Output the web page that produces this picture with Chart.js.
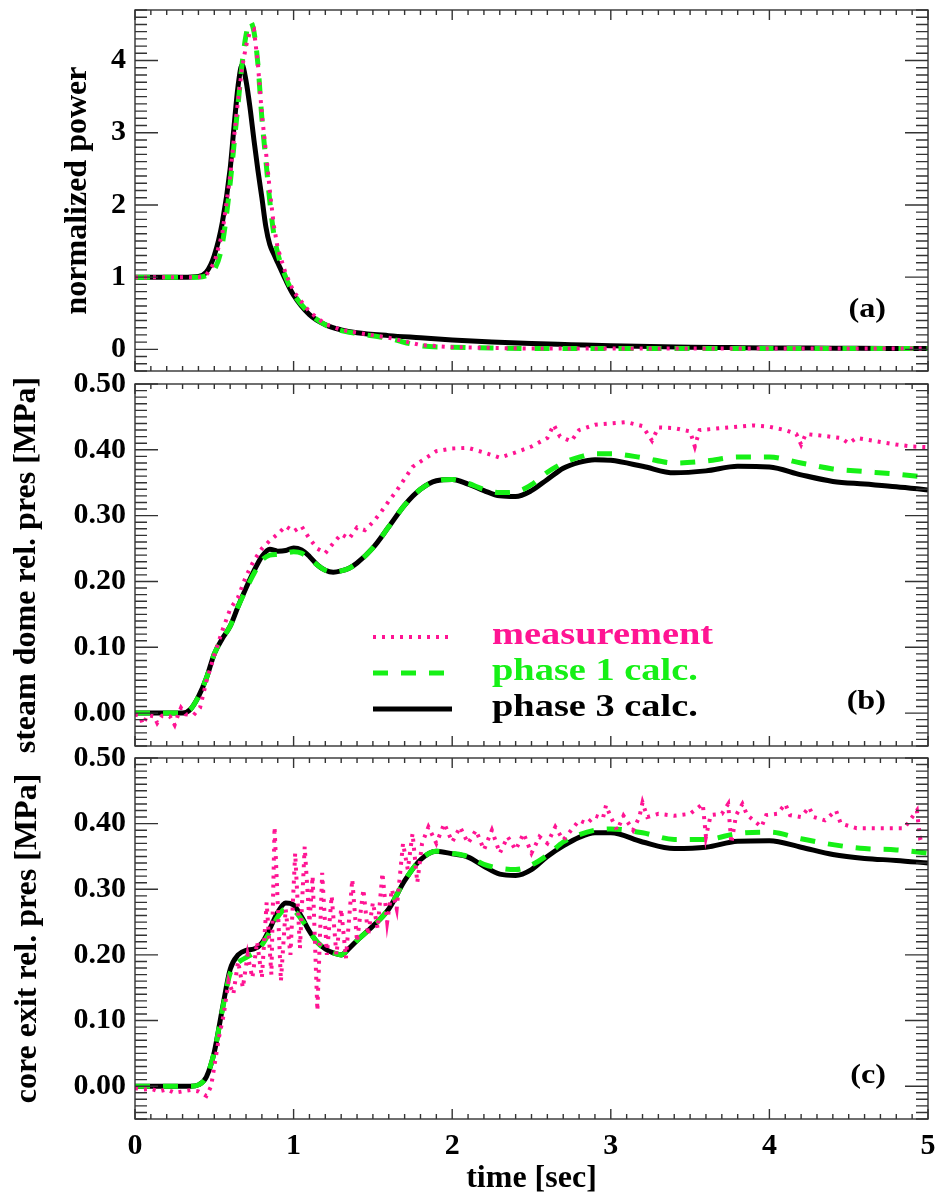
<!DOCTYPE html>
<html>
<head>
<meta charset="utf-8">
<script src="https://cdn.jsdelivr.net/npm/chart.js@4.4.1/dist/chart.umd.min.js"></script>
<style>
  body { margin: 0; background: #fff; }
  #wrap { position: relative; width: 935px; height: 1197px; }
  #wrap canvas { position: absolute; left: 0; top: 0; }
</style>
</head>
<body>
<div id="wrap">
  <canvas id="panelA" width="935" height="1197"></canvas>
  <canvas id="panelB" width="935" height="1197"></canvas>
  <canvas id="panelC" width="935" height="1197"></canvas>
</div>
<script>
// ---- data ----
const timeTicks = [0, 1, 2, 3, 4, 5];
const powerTicks = [0, 1, 2, 3, 4];
const presTicks = [0, 0.1, 0.2, 0.3, 0.4, 0.5];

// (a) normalized power
const tA = [0, 0.1, 0.2, 0.3, 0.4, 0.45, 0.5, 0.55, 0.6, 0.625, 0.65, 0.675, 0.7, 0.725, 0.75, 0.775, 0.8, 0.825, 0.85, 0.875, 0.9, 0.95, 1.0, 1.1, 1.2, 1.3, 1.4, 1.6, 1.8, 2.0, 2.25, 2.5, 2.75, 3.0, 3.25, 3.5, 3.75, 4.0, 4.25, 4.5, 4.75, 5.0];
const powerMeasured = [1, 1, 1, 1, 1, 1.03, 1.2, 1.6, 2.4, 2.95, 3.45, 3.9, 4.2, 4.4, 4.43, 3.95, 3.25, 2.75, 2.2, 1.72, 1.4, 1.05, 0.8, 0.52, 0.35, 0.27, 0.23, 0.16, 0.06, 0.03, 0.02, 0.01, 0.01, 0.01, 0.01, 0.01, 0.01, 0.01, 0.01, 0.01, 0.01, 0.01];
const powerPhase1 = [1, 1, 1, 1, 1, 1.02, 1.1, 1.45, 2.3, 2.85, 3.4, 3.95, 4.35, 4.54, 4.4, 3.95, 3.2, 2.62, 2.05, 1.6, 1.33, 1.0, 0.77, 0.5, 0.34, 0.26, 0.22, 0.15, 0.05, 0.03, 0.02, 0.01, 0.01, 0.01, 0.01, 0.01, 0.01, 0.01, 0.01, 0.01, 0.01, 0.01];
const powerPhase3 = [1, 1, 1, 1, 1.01, 1.07, 1.3, 1.75, 2.5, 3.1, 3.65, 3.94, 3.72, 3.35, 2.9, 2.48, 2.1, 1.7, 1.45, 1.32, 1.2, 0.96, 0.75, 0.48, 0.34, 0.27, 0.23, 0.19, 0.16, 0.13, 0.1, 0.08, 0.065, 0.05, 0.04, 0.03, 0.025, 0.02, 0.018, 0.015, 0.012, 0.01];

// (b) steam dome relative pressure [MPa]
const tCalc = [0, 0.1, 0.2, 0.3, 0.35, 0.4, 0.45, 0.5, 0.55, 0.6, 0.65, 0.7, 0.75, 0.8, 0.85, 0.9, 0.95, 1.0, 1.05, 1.1, 1.15, 1.2, 1.25, 1.3, 1.35, 1.4, 1.5, 1.6, 1.7, 1.8, 1.9, 2.0, 2.1, 2.2, 2.3, 2.4, 2.5, 2.6, 2.7, 2.8, 2.9, 3.0, 3.2, 3.4, 3.6, 3.8, 4.0, 4.2, 4.4, 4.6, 4.8, 5.0];
const domePhase1 = [0, 0, 0, 0, 0.006, 0.025, 0.053, 0.09, 0.113, 0.132, 0.162, 0.188, 0.212, 0.232, 0.24, 0.241, 0.243, 0.245, 0.243, 0.235, 0.225, 0.217, 0.214, 0.216, 0.22, 0.228, 0.251, 0.283, 0.316, 0.34, 0.353, 0.355, 0.349, 0.34, 0.335, 0.336, 0.347, 0.366, 0.38, 0.389, 0.394, 0.394, 0.388, 0.38, 0.383, 0.389, 0.389, 0.38, 0.371, 0.367, 0.363, 0.358];
const domePhase3 = [0, 0, 0, 0, 0.006, 0.025, 0.053, 0.09, 0.113, 0.132, 0.162, 0.19, 0.216, 0.238, 0.249, 0.246, 0.247, 0.251, 0.248, 0.238, 0.225, 0.217, 0.214, 0.216, 0.22, 0.228, 0.251, 0.283, 0.316, 0.34, 0.353, 0.355, 0.348, 0.338, 0.33, 0.329, 0.338, 0.355, 0.372, 0.381, 0.385, 0.384, 0.375, 0.365, 0.368, 0.375, 0.374, 0.362, 0.352, 0.348, 0.344, 0.339];
const tDomeMeas = [0, 0.03, 0.05, 0.08, 0.12, 0.14, 0.17, 0.22, 0.25, 0.27, 0.29, 0.32, 0.37, 0.41, 0.45, 0.5, 0.55, 0.6, 0.65, 0.7, 0.75, 0.8, 0.85, 0.9, 0.95, 1.0, 1.05, 1.1, 1.15, 1.2, 1.25, 1.3, 1.35, 1.4, 1.45, 1.5, 1.55, 1.6, 1.65, 1.7, 1.75, 1.8, 1.85, 1.9, 2.0, 2.1, 2.2, 2.3, 2.4, 2.5, 2.6, 2.64, 2.68, 2.75, 2.8, 2.9, 3.0, 3.1, 3.2, 3.26, 3.3, 3.4, 3.5, 3.53, 3.56, 3.7, 3.8, 3.9, 4.0, 4.1, 4.17, 4.2, 4.23, 4.35, 4.45, 4.5, 4.55, 4.7, 4.8, 4.9, 5.0];
const domeMeasured = [-0.002, -0.004, -0.017, -0.003, -0.005, -0.015, -0.004, -0.005, -0.018, -0.004, 0.008, -0.002, -0.003, 0.008, 0.048, 0.088, 0.125, 0.158, 0.176, 0.208, 0.232, 0.25, 0.262, 0.272, 0.284, 0.276, 0.284, 0.265, 0.25, 0.243, 0.258, 0.272, 0.265, 0.282, 0.278, 0.29, 0.305, 0.322, 0.338, 0.356, 0.374, 0.382, 0.39, 0.398, 0.402, 0.403, 0.396, 0.388, 0.396, 0.405, 0.418, 0.438, 0.42, 0.413, 0.43, 0.438, 0.44, 0.442, 0.436, 0.414, 0.434, 0.433, 0.428, 0.405, 0.43, 0.433, 0.435, 0.437, 0.435, 0.43, 0.424, 0.408, 0.424, 0.421, 0.418, 0.41, 0.418, 0.412, 0.408, 0.405, 0.404];

// (c) core exit relative pressure [MPa]
const corePhase1 = [0, 0, 0, 0, 0, 0.002, 0.014, 0.052, 0.115, 0.172, 0.188, 0.196, 0.203, 0.215, 0.235, 0.258, 0.27, 0.268, 0.254, 0.236, 0.219, 0.209, 0.203, 0.2, 0.21, 0.222, 0.244, 0.27, 0.313, 0.345, 0.358, 0.355, 0.35, 0.338, 0.332, 0.33, 0.337, 0.352, 0.372, 0.383, 0.39, 0.392, 0.386, 0.376, 0.376, 0.385, 0.387, 0.377, 0.368, 0.362, 0.36, 0.355];
const corePhase3 = [0, 0, 0, 0, 0, 0.002, 0.014, 0.052, 0.117, 0.178, 0.2, 0.207, 0.209, 0.218, 0.24, 0.265, 0.279, 0.276, 0.258, 0.236, 0.219, 0.209, 0.203, 0.2, 0.21, 0.222, 0.244, 0.27, 0.313, 0.345, 0.358, 0.354, 0.349, 0.335, 0.323, 0.321, 0.33, 0.35, 0.366, 0.379, 0.386, 0.386, 0.372, 0.362, 0.364, 0.373, 0.374, 0.364, 0.353, 0.347, 0.344, 0.34];
const tCoreMeas = [0, 0.05, 0.1, 0.15, 0.2, 0.25, 0.3, 0.35, 0.4, 0.45, 0.48, 0.5, 0.53, 0.56, 0.59, 0.62, 0.65, 0.68, 0.71, 0.74, 0.77, 0.8, 0.83, 0.86, 0.88, 0.92, 0.95, 0.98, 1.01, 1.04, 1.07, 1.1, 1.12, 1.15, 1.18, 1.21, 1.24, 1.27, 1.3, 1.33, 1.37, 1.4, 1.44, 1.47, 1.5, 1.53, 1.56, 1.59, 1.62, 1.65, 1.69, 1.72, 1.75, 1.78, 1.81, 1.85, 1.9, 1.95, 2.0, 2.05, 2.1, 2.15, 2.2, 2.25, 2.3, 2.35, 2.4, 2.45, 2.5, 2.55, 2.6, 2.65, 2.7, 2.75, 2.8, 2.85, 2.9, 2.95, 2.97, 3.0, 3.04, 3.08, 3.14, 3.18, 3.2, 3.23, 3.3, 3.4, 3.5, 3.58, 3.6, 3.63, 3.7, 3.74, 3.76, 3.79, 3.83, 3.86, 3.95, 3.98, 4.05, 4.1, 4.13, 4.2, 4.25, 4.28, 4.35, 4.42, 4.45, 4.55, 4.7, 4.85, 4.93, 4.95, 5.0];
const coreMeasured = [-0.003, -0.005, -0.004, -0.008, -0.005, -0.01, -0.008, -0.006, -0.008, -0.015, 0.0, 0.03, 0.075, 0.11, 0.16, 0.14, 0.19, 0.15, 0.2, 0.165, 0.22, 0.165, 0.28, 0.17, 0.395, 0.16, 0.27, 0.2, 0.355, 0.21, 0.365, 0.25, 0.32, 0.115, 0.325, 0.2, 0.29, 0.2, 0.27, 0.195, 0.315, 0.22, 0.3, 0.23, 0.28, 0.24, 0.325, 0.25, 0.3, 0.27, 0.37, 0.33, 0.385, 0.31, 0.37, 0.395, 0.37, 0.4, 0.372, 0.395, 0.37, 0.39, 0.36, 0.39, 0.355, 0.38, 0.36, 0.385, 0.355, 0.38, 0.37, 0.395, 0.375, 0.39, 0.405, 0.4, 0.412, 0.408, 0.428, 0.41, 0.39, 0.412, 0.39, 0.41, 0.432, 0.41, 0.415, 0.412, 0.415, 0.43, 0.38, 0.413, 0.415, 0.43, 0.37, 0.413, 0.43, 0.413, 0.395, 0.413, 0.415, 0.43, 0.413, 0.41, 0.425, 0.41, 0.405, 0.42, 0.4, 0.393, 0.393, 0.393, 0.42, 0.378, 0.382];

// ---- styling ----
const PINK = '#ff1493';
const GREEN = '#16f016';
const BLACK = '#000000';
Chart.defaults.font.family = '"Liberation Serif", "Times New Roman", serif';
Chart.defaults.font.weight = 'bold';

function pts(xs, ys) {
  return xs.map((x, i) => ({ x: x, y: ys[i] }));
}

// dataset index 0 is drawn on top
function datasets(meas, ph1, ph3) {
  return [
    { label: 'measurement', data: meas, borderColor: PINK, borderWidth: 4, borderDash: [3, 6], pointRadius: 0, tension: 0 },
    { label: 'phase 1 calc.', data: ph1, borderColor: GREEN, borderWidth: 5, borderDash: [15, 13], pointRadius: 0, cubicInterpolationMode: 'monotone' },
    { label: 'phase 3 calc.', data: ph3, borderColor: BLACK, borderWidth: 5, pointRadius: 0, cubicInterpolationMode: 'monotone' }
  ];
}

function yAxis(min, max, ticks, fmt, title, titlePad) {
  return {
    type: 'linear', min: min, max: max,
    // fixed axis width; labels may overhang the plot edges
    afterFit: s => { s.width = 135; s.paddingTop = 0; s.paddingBottom = 0; },
    afterBuildTicks: s => { s.ticks = ticks.map(v => ({ value: v })); },
    grid: { display: false, drawTicks: false },
    border: { display: false },
    ticks: { color: '#000', padding: 9, font: { size: 30, weight: 'bold' }, callback: fmt },
    title: { display: true, text: title, color: '#000', font: { size: 32, weight: 'bold', lineHeight: 1 }, padding: { top: titlePad, bottom: 0 } }
  };
}

// box frame with inward ticks on all four sides
const frameTicks = {
  id: 'frameTicks',
  afterDatasetsDraw(chart, args, o) {
    const { ctx, chartArea: a } = chart;
    const x = chart.scales.x, y = chart.scales.y;
    ctx.save();
    ctx.strokeStyle = '#333';
    ctx.lineWidth = 1.4;
    ctx.strokeRect(a.left, a.top, a.right - a.left, a.bottom - a.top);
    ctx.beginPath();
    for (let i = 0; i <= 50; i++) {
      const px = x.getPixelForValue(i / 10);
      const len = i % 10 === 0 ? 10 : 5;
      ctx.moveTo(px, a.bottom); ctx.lineTo(px, a.bottom - len);
      ctx.moveTo(px, a.top); ctx.lineTo(px, a.top + len);
    }
    const k0 = Math.ceil(y.min / o.step - 1e-6), k1 = Math.floor(y.max / o.step + 1e-6);
    for (let k = k0; k <= k1; k++) {
      const py = y.getPixelForValue(k * o.step);
      const len = k % o.every === 0 ? 23 : 12;
      ctx.moveTo(a.left, py); ctx.lineTo(a.left + len, py);
      ctx.moveTo(a.right, py); ctx.lineTo(a.right - len, py);
    }
    ctx.stroke();
    ctx.restore();
  }
};

function wideText(ctx, text, x, y, size, color, align, base, sx) {
  ctx.save();
  ctx.font = 'bold ' + size + 'px "Liberation Serif", serif';
  ctx.fillStyle = color;
  ctx.textAlign = align;
  ctx.textBaseline = base;
  ctx.translate(x, y);
  ctx.scale(sx, 1);
  ctx.fillText(text, 0, 0);
  ctx.restore();
}

// panel letter and (for panel b) the legend
const panelDecor = {
  id: 'panelDecor',
  afterDraw(chart, args, o) {
    const ctx = chart.ctx;
    wideText(ctx, o.tag, 886, o.tagY, 28, '#000', 'right', 'middle', 1.15);
    if (!o.legend) return;
    const items = chart.data.datasets;
    const rows = [637, 673, 709];
    items.forEach((ds, i) => {
      ctx.save();
      ctx.strokeStyle = ds.borderColor;
      ctx.lineWidth = ds.borderWidth;
      ctx.setLineDash(ds.borderDash || []);
      ctx.beginPath();
      ctx.moveTo(373, rows[i]);
      ctx.lineTo(452, rows[i]);
      ctx.stroke();
      ctx.restore();
      wideText(ctx, ds.label, 492, rows[i] + 7, 32, ds.borderColor, 'left', 'alphabetic', 1.2);
    });
  }
};

function makePanel(id, cfg) {
  const hasX = !!cfg.xTitle;
  const xScale = hasX ? {
    type: 'linear', min: 0, max: 5,
    afterFit: s => { s.height = 78; s.paddingLeft = 0; s.paddingRight = 0; },
    afterBuildTicks: s => { s.ticks = timeTicks.map(v => ({ value: v })); },
    grid: { display: false, drawTicks: false },
    border: { display: false },
    ticks: { color: '#000', padding: 9, maxRotation: 0, autoSkip: false, font: { size: 30, weight: 'bold' } },
    title: { display: true, text: cfg.xTitle, color: '#000', font: { size: 32, weight: 'bold', lineHeight: 1 }, padding: { top: 0, bottom: 2 } }
  } : { type: 'linear', min: 0, max: 5, display: false };

  return new Chart(document.getElementById(id), {
    type: 'line',
    data: { datasets: cfg.datasets },
    options: {
      responsive: false,
      animation: false,
      layout: { padding: { left: 0, right: 7, top: cfg.top, bottom: cfg.bottom } },
      scales: { x: xScale, y: cfg.y },
      plugins: {
        legend: { display: false },
        tooltip: { enabled: false },
        frameTicks: cfg.minor,
        panelDecor: { tag: cfg.tag, tagY: cfg.tagY, legend: cfg.legend }
      }
    },
    plugins: [frameTicks, panelDecor]
  });
}

makePanel('panelA', {
  top: 10, bottom: 826,
  datasets: datasets(pts(tA, powerMeasured), pts(tA, powerPhase1), pts(tA, powerPhase3)),
  y: yAxis(-0.3, 4.7, powerTicks, v => String(v), 'normalized power', 62),
  minor: { step: 0.1, every: 10 },
  tag: '(a)', tagY: 310
});

makePanel('panelB', {
  top: 384, bottom: 451,
  datasets: datasets(pts(tDomeMeas, domeMeasured), pts(tCalc, domePhase1), pts(tCalc, domePhase3)),
  y: yAxis(-0.05, 0.5, presTicks, v => v.toFixed(2), 'steam dome rel. pres [MPa]', 11),
  minor: { step: 0.01, every: 10 },
  tag: '(b)', tagY: 702, legend: true
});

makePanel('panelC', {
  top: 758, bottom: 0,
  datasets: datasets(pts(tCoreMeas, coreMeasured), pts(tCalc, corePhase1), pts(tCalc, corePhase3)),
  y: yAxis(-0.05, 0.5, presTicks, v => v.toFixed(2), 'core exit rel. pres [MPa]', 12),
  minor: { step: 0.01, every: 10 },
  tag: '(c)', tagY: 1076,
  xTitle: 'time [sec]'
});
</script>
</body>
</html>
